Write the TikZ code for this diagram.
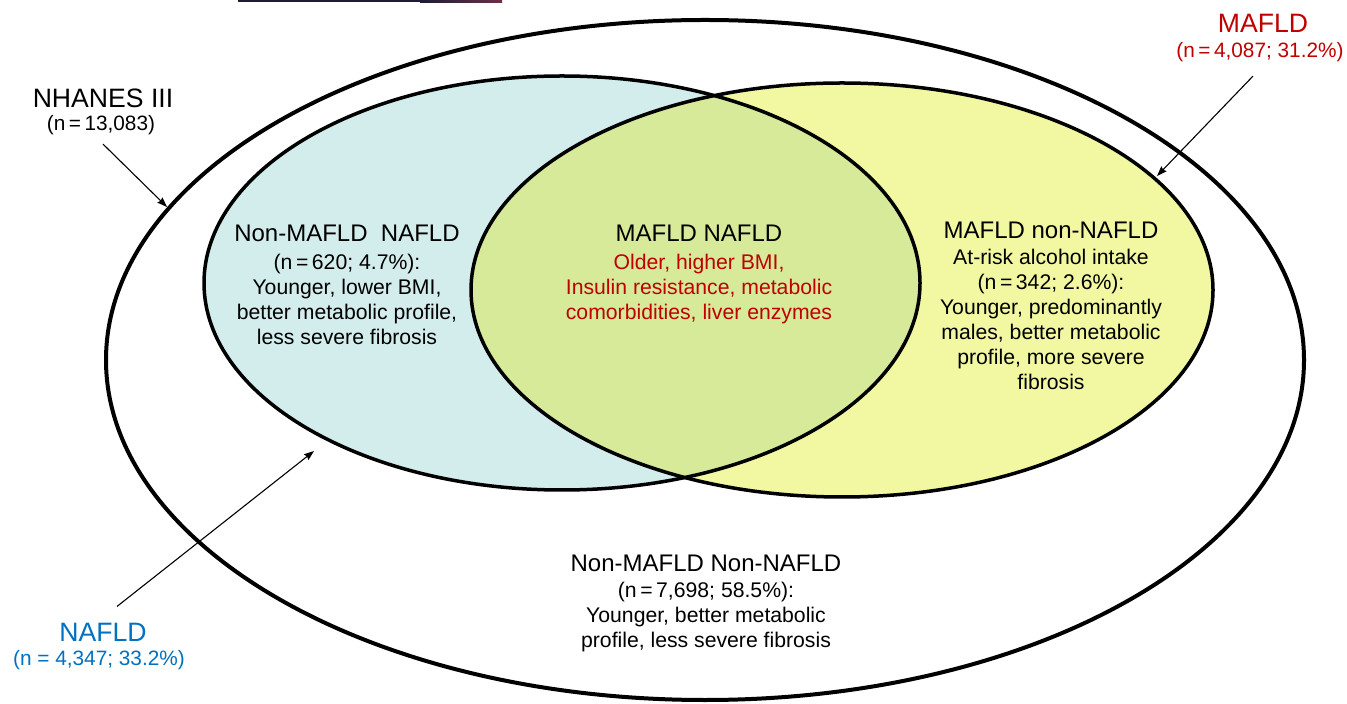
\documentclass[tikz,border=0pt]{standalone}
\usepackage{fontspec}
\setmainfont{Liberation Sans}
\usetikzlibrary{arrows.meta}
\definecolor{venblue}{HTML}{D3EDED}
\definecolor{venyellow}{HTML}{F2F7A1}
\definecolor{vengreen}{HTML}{D6EA9A}
\definecolor{labred}{HTML}{C00000}
\definecolor{labblue}{HTML}{0070C0}
\definecolor{barnavy}{HTML}{1F1B36}
\definecolor{barred}{HTML}{6A3048}
\begin{document}
\begin{tikzpicture}[x=0.5pt,y=-0.5pt,
  outerline/.style={line width=2pt},
  innerline/.style={line width=1.75pt},
  head/.style={font=\fontsize{12}{14}\selectfont, inner sep=0pt},
  body/.style={font=\fontsize{10.6}{12.5}\selectfont, align=center, inner sep=0pt, anchor=north},
  biglabel/.style={font=\fontsize{13.3}{15}\selectfont, inner sep=0pt},
  nlabel/.style={font=\fontsize{10.4}{12.5}\selectfont, inner sep=0pt},
  pointer/.style={line width=0.55pt, -{Stealth[length=5pt,width=3.6pt,inset=0.6pt]}}]
\useasboundingbox (0,0) rectangle (1347,704);
\fill[white] (0,0) rectangle (1347,704);
\fill[barnavy] (238,0) rectangle (420,2.5);
\shade[left color=barnavy, right color=barred] (420,0) rectangle (502,2.5);

% Venn ellipses
\draw[outerline] (705,360) ellipse [x radius=599, y radius=340];
\fill[venblue] (562,283) ellipse [x radius=358, y radius=207];
\fill[venyellow] (842,290) ellipse [x radius=371, y radius=207];
\begin{scope}
  \clip (562,283) ellipse [x radius=358, y radius=207];
  \fill[vengreen] (842,290) ellipse [x radius=371, y radius=207];
\end{scope}
\draw[innerline] (562,283) ellipse [x radius=358, y radius=207];
\draw[innerline] (842,290) ellipse [x radius=371, y radius=207];

% outside labels
\node[biglabel] (nhanes) at (103,98) {NHANES III};
\node[nlabel] (nhanesn) at (101,125) {(n\,=\,13,083)};
\coordinate (nhanestip) at (167,207);
\draw[pointer] ([xshift=1pt,yshift=-4.5pt]nhanesn.south) -- (nhanestip);

\node[biglabel, text=labred] (mafld) at (1263,23) {MAFLD};
\node[nlabel, text=labred] (mafldn) at (1260,52) {(n\,=\,4,087; 31.2\%)};
\coordinate (mafldtip) at (1157,176);
\draw[pointer] ([xshift=-3.5pt,yshift=-7pt]mafldn.south) -- (mafldtip);

\node[biglabel, text=labblue] (nafld) at (103,632) {NAFLD};
\node[nlabel, text=labblue] (nafldn) at (99,660) {(n = 4,347; 33.2\%)};
\coordinate (nafldtip) at (314,451);
\draw[pointer] ([xshift=7pt,yshift=8pt]nafld.north) -- (nafldtip);

% region texts
\node[head] (nmn) at (347,233) {Non-MAFLD\ \ NAFLD};
\node[body] (nmnb) at (347,254) {(n\,=\,620; 4.7\%):\\Younger, lower BMI,\\better metabolic profile,\\less severe fibrosis};

\node[head] (mn) at (699,233) {MAFLD NAFLD};
\node[body, text=labred] (mnb) at (699,254) {Older, higher BMI,\\Insulin resistance, metabolic\\comorbidities, liver enzymes};

\node[head] (mnn) at (1051,230) {MAFLD non-NAFLD};
\node[body] (mnnb) at (1051,249) {At-risk alcohol intake\\(n\,=\,342; 2.6\%):\\Younger, predominantly\\males, better metabolic\\profile, more severe\\fibrosis};

\node[head] (nn) at (706,563) {Non-MAFLD Non-NAFLD};
\node[body] (nnb) at (706,582) {(n\,=\,7,698; 58.5\%):\\Younger, better metabolic\\profile, less severe fibrosis};
\end{tikzpicture}
\end{document}
